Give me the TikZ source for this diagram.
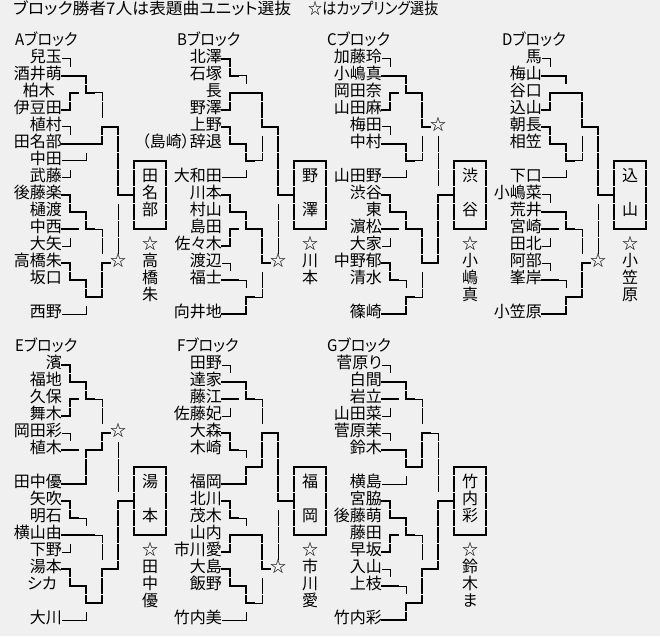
\documentclass[tikz,border=0pt]{standalone}
\usepackage{fontspec}
\setmainfont{Noto Sans CJK JP}[RawFeature=+palt]
\definecolor{bg}{HTML}{F0F0F0}
\newcommand\hseg[4]{\draw[#1,line cap=rect] (#3,#2) -- (#4,#2);}
\newcommand\vseg[4]{\pgfmathparse{abs(#3-round(#3))<0.1 ? 8 : 16.5}\edef\vph{\pgfmathresult}\draw[#1,dash pattern=on 16pt off 1pt,dash phase=\vph pt] (#2,#3) -- (#2,#4);}
\newcommand\nline[3]{\draw[#1,line cap=rect] (#2.east) -- ++(#3,0);}
\newcommand\nm[4]{\node[nm,anchor=east] (#1) at (#2,#3) {#4};}
\newcommand\wbox[4]{\hseg{thk}{#3}{#1}{#2}\hseg{thk}{#4}{#1}{#2}\vseg{thk}{#1}{#3}{#4}\vseg{thk}{#2}{#3}{#4}}
\begin{document}
\begin{tikzpicture}[x=1pt,y=-17pt,
  nm/.style={inner sep=0pt,text height=0.88em,text depth=0.12em,font=\fontsize{16pt}{17pt}\selectfont},
  hd/.style={nm,anchor=west,xscale=0.94,transform shape},
  thk/.style={line width=2pt,black},
  thn/.style={line width=1pt,black}]
\fill[bg] (0pt,8pt) rectangle (660pt,-628pt);
\useasboundingbox (0pt,8pt) rectangle (660pt,-628pt);
\node[nm,anchor=west,xscale=1.05,transform shape] (title1) at (13pt,-2.5pt) {ブロック勝者7人は表題曲ユニット選抜};
\node[nm,anchor=west,xscale=0.88,transform shape] (title2) at (308pt,-2.5pt) {☆はカップリング選抜};
% ---------------- A
\node[hd] (ah) at (15,2) {Aブロック};
\nm{a3}{62}{3}{兒玉}\nm{a4}{62}{4}{酒井萌}\nm{a5}{55}{5}{柏木}\nm{a6}{62}{6}{伊豆田}\nm{a7}{62}{7}{植村}\nm{a8}{62}{8}{田名部}\nm{a9}{62}{9}{中田}\nm{a10}{62}{10}{武藤}\nm{a11}{62}{11}{後藤楽}\nm{a12}{62}{12}{樋渡}\nm{a13}{62}{13}{中西}\nm{a14}{62}{14}{大矢}\nm{a15}{62}{15}{高橋朱}\nm{a16}{62}{16}{坂口}\nm{a18}{62}{18}{西野}
\nline{thn}{a3}{8}\vseg{thn}{70}{3}{3.5}
\nline{thk}{a4}{24}\vseg{thk}{86}{4}{5}\hseg{thk}{5}{86}{94}\hseg{thn}{5}{94}{102}\vseg{thn}{102}{5}{6.5}
\hseg{thk}{5}{70}{78}\vseg{thk}{70}{5}{6}\nline{thk}{a6}{8}
\nline{thn}{a7}{8}\vseg{thn}{70}{7}{7.5}
\nline{thk}{a8}{40}\vseg{thk}{102}{7}{8}\hseg{thk}{7}{102}{118}\vseg{thk}{118}{7}{11}\hseg{thk}{11}{118}{134}
\nline{thn}{a9}{24}\vseg{thn}{86}{8.5}{9}
\nline{thn}{a10}{8}\vseg{thn}{70}{9.5}{10}
\nline{thk}{a11}{8}\vseg{thk}{70}{11}{12}\hseg{thk}{12}{70}{86}\vseg{thk}{86}{12}{13}\hseg{thk}{13}{86}{94}\hseg{thn}{13}{94}{102}\vseg{thn}{102}{13}{14.5}
\vseg{thn}{118}{11.5}{14.5}
\nline{thk}{a13}{16}
\nline{thn}{a14}{8}\vseg{thn}{70}{13.5}{14}
\nline{thk}{a15}{8}\vseg{thk}{70}{15}{16}\hseg{thk}{16}{70}{86}\vseg{thk}{86}{16}{17}\hseg{thk}{17}{86}{102}\vseg{thk}{102}{15}{17}\hseg{thk}{15}{102}{110}
\node[nm] (as) at (118,15) {☆};
\nline{thn}{a18}{24}\vseg{thn}{86}{17.5}{18}
\wbox{134}{166}{9}{13}
\node[nm] (aw1) at (150,10) {田};\node[nm] (aw2) at (150,11) {名};\node[nm] (aw3) at (150,12) {部};
\node[nm] (ac0) at (150,14) {☆};\node[nm] (ac1) at (150,15) {高};\node[nm] (ac2) at (150,16) {橋};\node[nm] (ac3) at (150,17) {朱};
% ---------------- B
\node[hd] (bh) at (177,2) {Bブロック};
\nm{b3}{222}{3}{北澤}\nm{b4}{222}{4}{石塚}\nm{b5}{222}{5}{長}\nm{b6}{222}{6}{野澤}\nm{b7}{222}{7}{上野}\nm{b8}{222}{8}{（島崎）辞退}\nm{b10}{222}{10}{大和田}\nm{b11}{222}{11}{川本}\nm{b12}{222}{12}{村山}\nm{b13}{222}{13}{島田}\nm{b14}{222}{14}{佐々木}\nm{b15}{222}{15}{渡辺}\nm{b16}{222}{16}{福士}\nm{b18}{222}{18}{向井地}
\nline{thk}{b3}{8}\vseg{thk}{230}{3}{4}\hseg{thk}{4}{230}{238}\hseg{thn}{4}{238}{246}\vseg{thn}{246}{4}{4.5}
\hseg{thk}{5}{230}{262}\vseg{thk}{230}{5}{6}\vseg{thk}{262}{5}{7}\nline{thk}{b6}{8}
\nline{thk}{b7}{8}\vseg{thk}{230}{7}{8}\hseg{thk}{8}{230}{246}\vseg{thk}{246}{8}{9}\hseg{thk}{9}{246}{254}\hseg{thn}{9}{254}{262}\vseg{thn}{262}{7.5}{9}
\hseg{thk}{7}{262}{278}\vseg{thk}{278}{7}{11}\hseg{thk}{11}{278}{294}\vseg{thn}{278}{11.5}{14.5}
\node[nm] (bs) at (278,15) {☆};
\nline{thn}{b10}{24}\vseg{thn}{246}{9.5}{10}
\nline{thk}{b11}{8}\vseg{thk}{230}{11}{12}\hseg{thk}{12}{230}{246}\vseg{thk}{246}{12}{13}\hseg{thk}{13}{246}{262}\vseg{thk}{262}{13}{15}\hseg{thk}{15}{262}{270}
\hseg{thk}{13}{230}{238}\vseg{thk}{230}{13}{14}\nline{thk}{b14}{8}
\nline{thn}{b15}{8}\vseg{thn}{230}{15}{15.5}
\nline{thk}{b16}{16}\hseg{thn}{16}{238}{246}\vseg{thn}{246}{16}{16.5}\vseg{thn}{262}{15.5}{17}
\hseg{thk}{17}{246}{254}\hseg{thn}{17}{254}{262}\vseg{thk}{246}{17}{18}\nline{thk}{b18}{24}
\wbox{294}{326}{9}{13}
\node[nm] (bw1) at (310,10) {野};\node[nm] (bw2) at (310,12) {澤};
\node[nm] (bc0) at (310,14) {☆};\node[nm] (bc1) at (310,15) {川};\node[nm] (bc2) at (310,16) {本};
% ---------------- C
\node[hd] (ch) at (327,2) {Cブロック};
\nm{c3}{382}{3}{加藤玲}\nm{c4}{382}{4}{小嶋真}\nm{c5}{382}{5}{岡田奈}\nm{c6}{382}{6}{山田麻}\nm{c7}{382}{7}{梅田}\nm{c8}{382}{8}{中村}\nm{c10}{382}{10}{山田野}\nm{c11}{382}{11}{渋谷}\nm{c12}{382}{12}{東}\nm{c13}{382}{13}{濵松}\nm{c14}{382}{14}{大家}\nm{c15}{382}{15}{中野郁}\nm{c16}{382}{16}{清水}\nm{c18}{382}{18}{篠崎}
\nline{thn}{c3}{8}\vseg{thn}{390}{3}{3.5}
\nline{thk}{c4}{24}\vseg{thk}{406}{4}{5}\hseg{thk}{5}{406}{422}\vseg{thk}{422}{5}{7}\hseg{thk}{7}{422}{430}
\node[nm] (cs) at (438,7) {☆};\vseg{thn}{438}{7.5}{10.5}
\hseg{thk}{5}{390}{398}\vseg{thk}{390}{5}{6}\nline{thk}{c6}{8}
\nline{thn}{c7}{8}\vseg{thn}{390}{7}{7.5}
\nline{thk}{c8}{24}\vseg{thk}{406}{8}{9}\hseg{thk}{9}{406}{414}\hseg{thn}{9}{414}{422}\vseg{thn}{422}{7.5}{9}
\nline{thn}{c10}{24}\vseg{thn}{406}{9.5}{10}
\nline{thk}{c11}{8}\vseg{thk}{390}{11}{12}\hseg{thk}{12}{390}{406}\vseg{thk}{406}{12}{13}\hseg{thk}{13}{406}{422}\vseg{thk}{422}{13}{15}\hseg{thk}{15}{422}{438}\vseg{thk}{438}{11}{15}\hseg{thk}{11}{438}{454}
\nline{thk}{c13}{16}
\nline{thn}{c14}{8}\vseg{thn}{390}{13.5}{14}
\nline{thk}{c15}{8}\vseg{thk}{390}{15}{16}\hseg{thk}{16}{390}{398}\hseg{thn}{16}{398}{406}\vseg{thn}{406}{16}{16.5}\vseg{thn}{422}{15.5}{17}
\hseg{thk}{17}{406}{414}\hseg{thn}{17}{414}{422}\vseg{thk}{406}{17}{18}\nline{thk}{c18}{24}
\wbox{454}{486}{9}{13}
\node[nm] (cw1) at (470,10) {渋};\node[nm] (cw2) at (470,12) {谷};
\node[nm] (cc0) at (470,14) {☆};\node[nm] (cc1) at (470,15) {小};\node[nm] (cc2) at (470,16) {嶋};\node[nm] (cc3) at (470,17) {真};
% ---------------- D
\node[hd] (dh) at (502,2) {Dブロック};
\nm{d3}{542}{3}{馬}\nm{d4}{542}{4}{梅山}\nm{d5}{542}{5}{谷口}\nm{d6}{542}{6}{込山}\nm{d7}{542}{7}{朝長}\nm{d8}{542}{8}{相笠}\nm{d10}{542}{10}{下口}\nm{d11}{542}{11}{小嶋菜}\nm{d12}{542}{12}{荒井}\nm{d13}{542}{13}{宮崎}\nm{d14}{542}{14}{田北}\nm{d15}{542}{15}{阿部}\nm{d16}{542}{16}{峯岸}\nm{d18}{542}{18}{小笠原}
\nline{thn}{d3}{8}\vseg{thn}{550}{3}{3.5}
\nline{thk}{d4}{24}\vseg{thk}{566}{4}{4.5}
\hseg{thk}{5}{550}{582}\vseg{thk}{550}{5}{6}\vseg{thk}{582}{5}{7}\hseg{thk}{7}{582}{598}\vseg{thk}{598}{7}{11}\hseg{thk}{11}{598}{614}\vseg{thn}{598}{11.5}{14.5}
\node[nm] (ds) at (598,15) {☆};
\nline{thk}{d6}{8}
\nline{thk}{d7}{8}\vseg{thk}{550}{7}{8}\hseg{thk}{8}{550}{566}\vseg{thk}{566}{8}{9}\hseg{thk}{9}{566}{574}\hseg{thn}{9}{574}{582}\vseg{thn}{582}{7.5}{9}
\nline{thn}{d10}{24}\vseg{thn}{566}{9.5}{10}
\nline{thn}{d11}{8}\vseg{thn}{550}{11}{11.5}
\nline{thk}{d12}{24}\vseg{thk}{566}{12}{13}\hseg{thk}{13}{566}{574}\hseg{thn}{13}{574}{582}\vseg{thn}{582}{13}{14.5}
\nline{thk}{d13}{16}
\nline{thn}{d14}{8}\vseg{thn}{550}{13.5}{14}
\nline{thn}{d15}{8}\vseg{thn}{550}{15}{15.5}\hseg{thk}{15}{582}{590}\vseg{thk}{582}{15}{17}
\nline{thk}{d16}{16}\hseg{thn}{16}{558}{566}\vseg{thn}{566}{16}{16.5}
\hseg{thk}{17}{566}{582}\vseg{thk}{566}{17}{18}\nline{thk}{d18}{24}
\wbox{614}{646}{9}{13}
\node[nm] (dw1) at (630,10) {込};\node[nm] (dw2) at (630,12) {山};
\node[nm] (dc0) at (630,14) {☆};\node[nm] (dc1) at (630,15) {小};\node[nm] (dc2) at (630,16) {笠};\node[nm] (dc3) at (630,17) {原};
% ---------------- E
\node[hd] (eh) at (15,20) {Eブロック};
\nm{e21}{62}{21}{濱}\nm{e22}{62}{22}{福地}\nm{e23}{62}{23}{久保}\nm{e24}{62}{24}{舞木}\nm{e25}{62}{25}{岡田彩}\nm{e26}{62}{26}{植木}\nm{e28}{62}{28}{田中優}\nm{e29}{62}{29}{矢吹}\nm{e30}{62}{30}{明石}\nm{e31}{62}{31}{横山由}\nm{e32}{62}{32}{下野}\nm{e33}{62}{33}{湯本}\nm{e34}{57}{34}{シカ}\nm{e36}{62}{36}{大川}
\nline{thk}{e21}{8}\vseg{thk}{70}{21}{22}\hseg{thk}{22}{70}{86}\vseg{thk}{86}{22}{23}\hseg{thk}{23}{86}{94}\hseg{thn}{23}{94}{102}\vseg{thn}{102}{23}{24.5}
\hseg{thk}{23}{70}{78}\vseg{thk}{70}{23}{24}\nline{thk}{e24}{8}
\nline{thn}{e25}{8}\vseg{thn}{70}{25}{25.5}\hseg{thk}{25}{102}{110}\vseg{thk}{102}{25}{26}
\node[nm] (es) at (118,25) {☆};\vseg{thn}{118}{25.5}{28.5}
\nline{thk}{e26}{16}\hseg{thk}{26}{86}{102}\vseg{thk}{86}{26}{28}\nline{thk}{e28}{24}
\nline{thk}{e29}{8}\vseg{thk}{70}{29}{30}\hseg{thk}{30}{70}{78}\hseg{thn}{30}{78}{86}\vseg{thn}{86}{30}{30.5}
\hseg{thk}{29}{118}{134}\vseg{thk}{118}{29}{33}
\nline{thk}{e31}{32}\hseg{thn}{31}{94}{102}\vseg{thn}{102}{31}{32.5}
\nline{thn}{e32}{8}\vseg{thn}{70}{31.5}{32}
\nline{thk}{e33}{8}\vseg{thk}{70}{33}{34}\hseg{thk}{34}{70}{86}\vseg{thk}{86}{34}{35}\hseg{thk}{35}{86}{102}\vseg{thk}{102}{33}{35}\hseg{thk}{33}{102}{118}
\nline{thn}{e36}{24}\vseg{thn}{86}{35.5}{36}
\wbox{134}{166}{27}{31}
\node[nm] (ew1) at (150,28) {湯};\node[nm] (ew2) at (150,30) {本};
\node[nm] (ec0) at (150,32) {☆};\node[nm] (ec1) at (150,33) {田};\node[nm] (ec2) at (150,34) {中};\node[nm] (ec3) at (150,35) {優};
% ---------------- F
\node[hd] (fh) at (177,20) {Fブロック};
\nm{f21}{222}{21}{田野}\nm{f22}{222}{22}{達家}\nm{f23}{222}{23}{藤江}\nm{f24}{222}{24}{佐藤妃}\nm{f25}{222}{25}{大森}\nm{f26}{222}{26}{木崎}\nm{f28}{222}{28}{福岡}\nm{f29}{222}{29}{北川}\nm{f30}{222}{30}{茂木}\nm{f31}{222}{31}{山内}\nm{f32}{222}{32}{市川愛}\nm{f33}{222}{33}{大島}\nm{f34}{222}{34}{飯野}\nm{f36}{222}{36}{竹内美}
\nline{thn}{f21}{8}\vseg{thn}{230}{21}{21.5}
\nline{thk}{f22}{24}\vseg{thk}{246}{22}{23}\hseg{thk}{23}{246}{254}\hseg{thn}{23}{254}{262}\vseg{thn}{262}{23}{24.5}
\nline{thk}{f23}{16}
\nline{thn}{f24}{8}\vseg{thn}{230}{23.5}{24}
\nline{thk}{f25}{8}\vseg{thk}{230}{25}{26}\hseg{thk}{26}{230}{238}\hseg{thn}{26}{238}{246}\vseg{thn}{246}{26}{26.5}
\hseg{thk}{25}{262}{278}\vseg{thk}{262}{25}{27}\vseg{thk}{278}{25}{29}\hseg{thk}{29}{278}{294}\vseg{thn}{278}{29.5}{32.5}
\node[nm] (fs) at (278,33) {☆};
\hseg{thk}{27}{246}{262}\vseg{thk}{246}{27}{28}\nline{thk}{f28}{24}
\nline{thk}{f29}{8}\vseg{thk}{230}{29}{30}\hseg{thk}{30}{230}{238}\hseg{thn}{30}{238}{246}\vseg{thn}{246}{30}{30.5}
\hseg{thk}{31}{230}{262}\vseg{thk}{230}{31}{32}\vseg{thk}{262}{31}{33}\hseg{thk}{33}{262}{270}\nline{thk}{f32}{8}
\nline{thk}{f33}{8}\vseg{thk}{230}{33}{34}\hseg{thk}{34}{230}{246}\vseg{thk}{246}{34}{35}\hseg{thk}{35}{246}{254}\hseg{thn}{35}{254}{262}\vseg{thn}{262}{33.5}{35}
\nline{thn}{f36}{24}\vseg{thn}{246}{35.5}{36}
\wbox{294}{326}{27}{31}
\node[nm] (fw1) at (310,28) {福};\node[nm] (fw2) at (310,30) {岡};
\node[nm] (fc0) at (310,32) {☆};\node[nm] (fc1) at (310,33) {市};\node[nm] (fc2) at (310,34) {川};\node[nm] (fc3) at (310,35) {愛};
% ---------------- G
\node[hd] (gh) at (327,20) {Gブロック};
\nm{g21}{382}{21}{菅原り}\nm{g22}{382}{22}{白間}\nm{g23}{382}{23}{岩立}\nm{g24}{382}{24}{山田菜}\nm{g25}{382}{25}{菅原茉}\nm{g26}{382}{26}{鈴木}\nm{g28}{382}{28}{横島}\nm{g29}{382}{29}{宮脇}\nm{g30}{382}{30}{後藤萌}\nm{g31}{382}{31}{藤田}\nm{g32}{382}{32}{早坂}\nm{g33}{382}{33}{入山}\nm{g34}{382}{34}{上枝}\nm{g36}{382}{36}{竹内彩}
\nline{thn}{g21}{8}\vseg{thn}{390}{21}{21.5}
\nline{thk}{g22}{24}\vseg{thk}{406}{22}{23}\hseg{thk}{23}{406}{414}\hseg{thn}{23}{414}{422}\vseg{thn}{422}{23}{24.5}
\nline{thk}{g23}{16}
\nline{thn}{g24}{8}\vseg{thn}{390}{23.5}{24}
\nline{thn}{g25}{8}\vseg{thn}{390}{25}{25.5}\hseg{thk}{25}{422}{430}\hseg{thn}{25}{430}{438}\vseg{thk}{422}{25}{27}\vseg{thn}{438}{25}{28.5}
\nline{thk}{g26}{24}\vseg{thk}{406}{26}{27}\hseg{thk}{27}{406}{422}
\nline{thn}{g28}{24}\vseg{thn}{406}{27.5}{28}
\nline{thk}{g29}{8}\vseg{thk}{390}{29}{30}\hseg{thk}{30}{390}{406}\vseg{thk}{406}{30}{31}\hseg{thk}{31}{406}{414}\hseg{thn}{31}{414}{422}\vseg{thn}{422}{31}{32.5}
\hseg{thk}{29}{438}{454}\vseg{thk}{438}{29}{33}
\hseg{thk}{31}{390}{398}\vseg{thk}{390}{31}{32}\nline{thk}{g32}{8}
\nline{thn}{g33}{8}\vseg{thn}{390}{33}{33.5}\hseg{thk}{33}{422}{438}\vseg{thk}{422}{33}{35}
\nline{thk}{g34}{16}\hseg{thn}{34}{398}{406}\vseg{thn}{406}{34}{34.5}
\hseg{thk}{35}{406}{422}\vseg{thk}{406}{35}{36}\nline{thk}{g36}{24}
\wbox{454}{486}{27}{31}
\node[nm] (gw1) at (470,28) {竹};\node[nm] (gw2) at (470,29) {内};\node[nm] (gw3) at (470,30) {彩};
\node[nm] (gc0) at (470,32) {☆};\node[nm] (gc1) at (470,33) {鈴};\node[nm] (gc2) at (470,34) {木};\node[nm] (gc3) at (470,35) {ま};
\end{tikzpicture}
\end{document}
